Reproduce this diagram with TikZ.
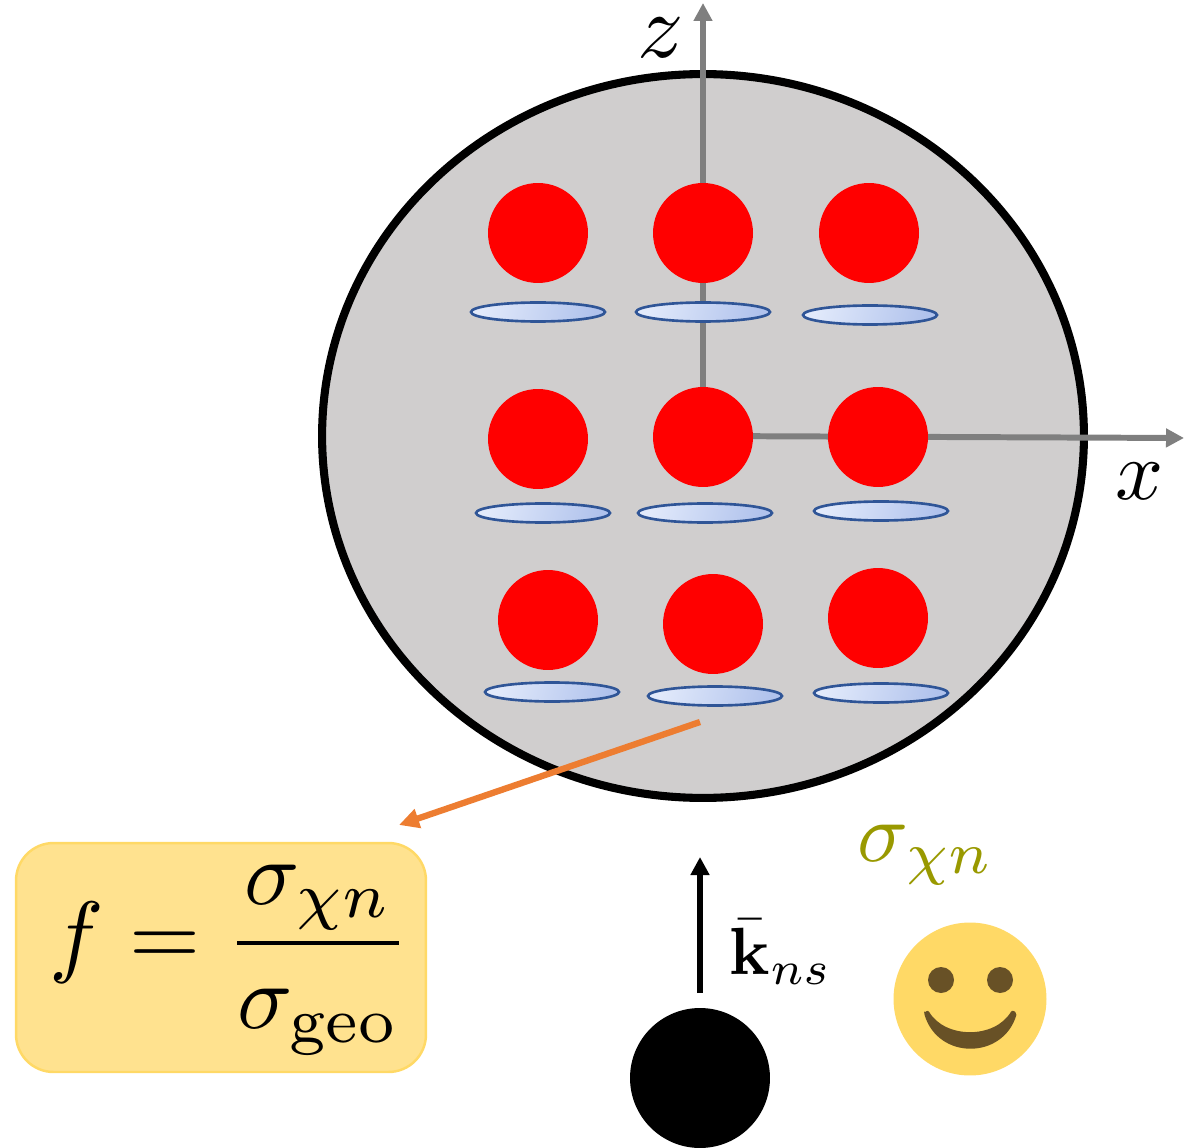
\documentclass[tikz,border=0pt]{standalone}
\usepackage{tikz}
\usetikzlibrary{arrows.meta, positioning, shapes.geometric, calc}
\usepackage{amsmath}
\definecolor{nucgray}{RGB}{208,206,206}
\definecolor{axisgray}{RGB}{127,127,127}
\definecolor{diskblue}{RGB}{47,85,151}
\definecolor{diskdark}{RGB}{176,194,236}
\definecolor{disklight}{RGB}{226,234,251}
\definecolor{boxyellow}{RGB}{255,226,143}
\definecolor{smileyellow}{RGB}{255,217,102}
\definecolor{smilebrown}{RGB}{104,81,38}
\definecolor{arroworange}{RGB}{237,125,49}
\definecolor{sigmaolive}{RGB}{153,153,0}

\begin{document}
\begin{tikzpicture}[x=0.02cm, y=-0.02cm,
		nucleon/.style={circle, fill=red, inner sep=0pt, minimum size=2cm},
		disk/.style={ellipse, draw=diskblue, line width=1.5pt, inner sep=0pt,
		             minimum width=2.68cm, minimum height=0.38cm,
		             left color=disklight, right color=diskdark, shading angle=75},
		axisline/.style={axisgray, line width=3.4pt, -{Triangle[length=0.36cm, width=0.36cm]}},
		lab/.style={inner sep=0pt},
		eye/.style={circle, fill=smilebrown, inner sep=0pt, minimum size=0.52cm}]
		\useasboundingbox (0,0) rectangle (1186,1148);
		\node[ellipse, draw=black, fill=nucgray, line width=4.6pt, inner sep=0pt,
		      minimum width=15.24cm, minimum height=14.48cm] (nuc) at (703,436) {};
		\coordinate (ztip) at (703,3);
		\coordinate (xtip) at (1184,438);
		\coordinate (org) at (703,436);
		\draw[axisline] (org) -- (ztip);
		\draw[axisline] (org) -- (xtip);
		\foreach \n/\x/\y in {a/538/233, b/703/233, c/869/233,
		                      d/538/439, e/703/437, f/878/437,
		                      g/548/620, h/713/624, i/878/618}
		  \node[nucleon] (n\n) at (\x,\y) {};
		\foreach \n/\x/\y in {a/538/312, b/703/312, c/870/315,
		                      d/543/513, e/705/513, f/881/511,
		                      g/552/692, h/715/696, i/881/693}
		  \node[disk] (d\n) at (\x,\y) {};
		\node[lab, scale=5.2] (zlab) at (661,38) {$z$};
		\node[lab, scale=4.8] (xlab) at (1140,481) {$x$};
		\node[draw=smileyellow, fill=boxyellow, line width=1.4pt, rounded corners=0.75cm,
		      minimum width=8.2cm, minimum height=4.58cm] (form) at (221,957.5) {};
		\node[lab, scale=5.2] (formula) at (230,960) {$f=\dfrac{\sigma_{\chi n}}{\sigma_{\text{geo}}}$};
		\coordinate (astart) at (700,722);
		\coordinate (aend) at (399,825);
		\draw[arroworange, line width=3.6pt, -{Triangle[length=0.4cm, width=0.38cm]}] (astart) -- (aend);
		\node[circle, fill=black, inner sep=0pt, minimum size=2.8cm] (ns) at (700,1078) {};
		\coordinate (kstart) at (700,993);
		\coordinate (ktip) at (700,857);
		\draw[black, line width=3.2pt, -{Triangle[length=0.36cm, width=0.36cm]}] (kstart) -- (ktip);
		\node[lab, scale=3.8] (klab) at (781,952) {$\bar{\mathbf{k}}_{ns}$};
		\node[lab, scale=4.8, text=sigmaolive] (sig) at (926,855) {$\sigma_{\chi n}$};
		\node[circle, fill=smileyellow, inner sep=0pt, minimum size=3.06cm] (face) at (970,999) {};
		\node[eye] (eyel) at (941,980) {};
		\node[eye] (eyer) at (1000,980) {};
		\fill[smilebrown, rounded corners=0.04cm] (924,1013) -- (928,1010)
		  .. controls (945,1039) and (995,1039) .. (1012,1010) -- (1017,1013)
		  .. controls (1003,1060) and (938,1060) .. cycle;
	\end{tikzpicture}
\end{document}
